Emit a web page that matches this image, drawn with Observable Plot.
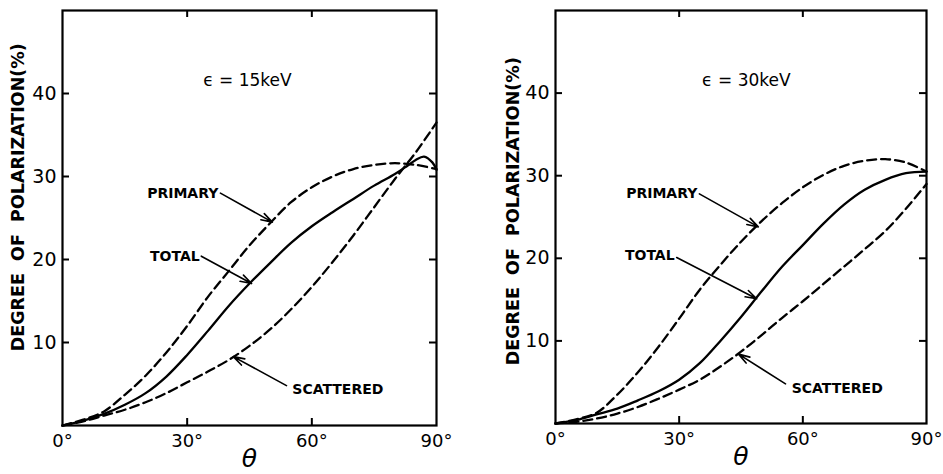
<!DOCTYPE html>
<html><head><meta charset="utf-8">
<script src="https://cdn.jsdelivr.net/npm/d3@7"></script>
<script src="https://cdn.jsdelivr.net/npm/@observablehq/plot@0.6"></script>
<style>
body{margin:0;background:#fff}
#wrap{display:flex;width:943px;height:474px;overflow:hidden}
</style>
</head><body><div id="wrap"></div>
<script>
// ---- data ----
const theta = [0,5,10,15,20,25,30,35,40,45,50,55,60,65,70,75,80,85,90];

// 15 keV panel
const primary15   = [0,0.7,1.7,3.7,6.0,8.8,12.0,15.5,18.6,21.7,24.4,26.9,28.7,30.0,30.9,31.4,31.6,31.4,30.9];
const scattered15 = [0,0.5,1.2,1.9,2.8,3.9,5.2,6.5,7.9,9.6,11.6,14.0,16.7,19.7,22.9,26.3,29.7,32.9,36.5];
const thetaTotal15 = [0,5,10,15,20,25,30,35,40,45,50,55,60,65,70,75,80,83,85,87,89,90];
const total15     = [0,0.6,1.4,2.5,3.9,5.9,8.5,11.4,14.4,17.1,19.6,22.0,24.0,25.7,27.3,28.9,30.3,31.3,32.0,32.4,31.7,30.8];

// 30 keV panel
const primary30   = [0,0.5,1.3,3.5,6.2,9.3,12.7,16.2,19.2,22.0,24.5,26.7,28.6,30.1,31.2,31.8,32.0,31.6,30.5];
const total30     = [0,0.4,1.1,1.8,2.8,3.9,5.3,7.3,10.0,12.9,16.0,19.0,21.6,24.2,26.5,28.3,29.5,30.3,30.5];
const scattered30 = [0,0.2,0.6,1.2,2.0,3.0,4.1,5.3,6.9,8.7,10.7,12.8,14.8,16.9,19.0,21.1,23.3,26.0,29.0];

// axes
const xTicks = [0,30,60,90];
const yTicks = [10,20,30,40];
const xDomain = [0,90];
const yDomain = [0,50];
const yLabel = "DEGREE\u00a0 OF\u00a0 POLARIZATION(%)";
const xLabel = "θ";

// annotations (label text, label anchor point, arrow from -> to, in data units)
const notes15 = [
  {text:"PRIMARY",   tx:37.5, ty:28.0, anchor:"end",   x1:38.0, y1:28.0, x2:50.5, y2:24.5},
  {text:"TOTAL",     tx:33.0, ty:20.4, anchor:"end",   x1:33.4, y1:20.4, x2:45.5, y2:17.1},
  {text:"SCATTERED", tx:55.3, ty:4.3,  anchor:"start", x1:53.9, y1:4.8,  x2:41.1, y2:8.3}
];
const notes30 = [
  {text:"PRIMARY",   tx:34.4, ty:27.8, anchor:"end",   x1:34.9, y1:27.8, x2:49.2, y2:23.8},
  {text:"TOTAL",     tx:28.9, ty:20.3, anchor:"end",   x1:29.4, y1:20.1, x2:48.8, y2:15.1},
  {text:"SCATTERED", tx:57.3, ty:4.2,  anchor:"start", x1:55.8, y1:4.8,  x2:44.4, y2:8.4}
];
const energy15 = {text:"ϵ = 15keV", x:44.5, y:41.6};
const energy30 = {text:"ϵ = 30keV", x:46.3, y:41.5};

function rows(xs, ys){ return xs.map((t,i)=>({theta:t, p:ys[i]})); }

function panel(o){
  const W = o.width - o.marginLeft - o.marginRight;
  const H = o.height - o.marginTop - o.marginBottom;
  const tk = 7;
  const font = "DejaVu Sans";
  const labelStyle = {x: "tx", y: "ty", text: "text", fontSize: 14, fontWeight: "bold", fill: "#000"};
  return Plot.plot({
    width: o.width, height: o.height,
    marginLeft: o.marginLeft, marginRight: o.marginRight,
    marginTop: o.marginTop, marginBottom: o.marginBottom,
    style: {fontFamily: font, background: "#fff", color: "#000"},
    x: {domain: xDomain},
    y: {domain: yDomain},
    marks: [
      Plot.axisX({ticks: xTicks, tickSize: 0, tickPadding: 9, fontSize: 18, tickFormat: d => d + "°", label: null}),
      Plot.axisY({ticks: yTicks, tickSize: 0, tickPadding: 6, fontSize: 19, label: null}),
      // inward ticks on all four sides
      Plot.tickY(yTicks, {y: d => d, insetRight: W - tk, strokeWidth: 2}),
      Plot.tickY(yTicks, {y: d => d, insetLeft: W - tk, strokeWidth: 2}),
      Plot.tickX(xTicks.slice(1,3), {x: d => d, insetTop: H - tk, strokeWidth: 2}),
      Plot.tickX(xTicks.slice(1,3), {x: d => d, insetBottom: H - tk, strokeWidth: 2}),
      Plot.frame({stroke: "#000", strokeWidth: 2.2}),
      Plot.line(o.primary, {x: "theta", y: "p", stroke: "#000", strokeWidth: 2.3, strokeDasharray: "9,5", curve: "catmull-rom"}),
      Plot.line(o.scattered, {x: "theta", y: "p", stroke: "#000", strokeWidth: 2.3, strokeDasharray: "9,5", curve: "catmull-rom"}),
      Plot.line(o.total, {x: "theta", y: "p", stroke: "#000", strokeWidth: 2.3, curve: "catmull-rom"}),
      Plot.arrow(o.notes, {x1: "x1", y1: "y1", x2: "x2", y2: "y2", stroke: "#000", strokeWidth: 1.6, headLength: 11, headAngle: 35}),
      Plot.text(o.notes.filter(d => d.anchor === "end"), {...labelStyle, textAnchor: "end"}),
      Plot.text(o.notes.filter(d => d.anchor === "start"), {...labelStyle, textAnchor: "start"}),
      Plot.text([o.energy], {x: "x", y: "y", text: "text", fontSize: 17, fill: "#000"}),
      Plot.text([yLabel], {frameAnchor: "left", y: o.yLabelY, dx: o.yLabelDx, rotate: -90, textAnchor: "middle", fontSize: 17.5, fontWeight: "bold", fill: "#000"}),
      Plot.text([xLabel], {frameAnchor: "bottom", dy: 41, fontSize: 25, fontStyle: "italic", fill: "#000"})
    ]
  });
}

const wrap = document.getElementById("wrap");
wrap.append(panel({
  width: 470, height: 474, marginLeft: 62, marginRight: 34, marginTop: 10, marginBottom: 49,
  primary: rows(theta, primary15), scattered: rows(theta, scattered15), total: rows(thetaTotal15, total15),
  notes: notes15, energy: energy15, yLabelY: 27.5, yLabelDx: -44
}));
wrap.append(panel({
  width: 473, height: 474, marginLeft: 85, marginRight: 17, marginTop: 10, marginBottom: 51,
  primary: rows(theta, primary30), scattered: rows(theta, scattered30), total: rows(theta, total30),
  notes: notes30, energy: energy30, yLabelY: 25.7, yLabelDx: -42
}));
</script>
</body></html>
